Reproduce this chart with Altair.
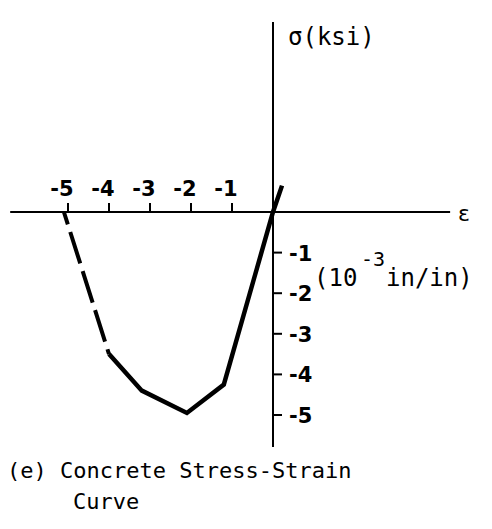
import altair as alt
import pandas as pd

# Concrete stress-strain curve: strain in 10^-3 in/in, stress in ksi
dashed_strain = [-5.1, -4.0]
dashed_stress = [0.0, -3.5]
solid_strain = [-4.0, -3.2, -2.1, -1.2, 0.0, 0.22]
solid_stress = [-3.5, -4.4, -4.95, -4.25, 0.0, 0.65]

x_tick_values = [-5, -4, -3, -2, -1]
x_tick_labels = ["-5", "-4", "-3", "-2", "-1"]
y_tick_values = [-1, -2, -3, -4, -5]
y_tick_labels = ["-1", "-2", "-3", "-4", "-5"]

# drawing extents of the two axis lines, in data units
x_axis_span = [-6.41, 4.32]
y_axis_span = [-5.79, 4.68]
tick_len = 0.22

W, H = 492, 529
PX_X, PX_Y = 41.0, 40.6          # pixels per unit
ORIGIN_X, ORIGIN_Y = 273, 212    # pixel position of (0, 0)
x_scale = alt.Scale(domain=[-ORIGIN_X / PX_X, (W - ORIGIN_X) / PX_X], nice=False, zero=False)
y_scale = alt.Scale(domain=[-(H - ORIGIN_Y) / PX_Y, ORIGIN_Y / PX_Y], nice=False, zero=False)

MONO = "DejaVu Sans Mono"
BOLD = "DejaVu Sans"

dashed = pd.DataFrame({"i": range(len(dashed_strain)), "e": dashed_strain, "s": dashed_stress})
solid = pd.DataFrame({"i": range(len(solid_strain)), "e": solid_strain, "s": solid_stress})
axes = pd.DataFrame({
    "x": [x_axis_span[0], 0.0], "x2": [x_axis_span[1], 0.0],
    "y": [0.0, y_axis_span[0]], "y2": [0.0, y_axis_span[1]],
})
xt = pd.DataFrame({"v": x_tick_values, "lab": x_tick_labels})
yt = pd.DataFrame({"v": y_tick_values, "lab": y_tick_labels})

X = lambda f: alt.X(f, type="quantitative", scale=x_scale, axis=None)
Y = lambda f: alt.Y(f, type="quantitative", scale=y_scale, axis=None)

axis_lines = alt.Chart(axes).mark_rule(color="black", strokeWidth=2).encode(
    x=X("x"), x2="x2", y=Y("y"), y2="y2"
)

x_ticks = alt.Chart(xt).mark_rule(color="black", strokeWidth=2).encode(
    x=X("v"), y=alt.Y(datum=0, scale=y_scale, axis=None), y2=alt.Y2(datum=tick_len)
)
y_ticks = alt.Chart(yt).mark_rule(color="black", strokeWidth=2).encode(
    y=Y("v"), x=alt.X(datum=0, scale=x_scale, axis=None), x2=alt.X2(datum=tick_len)
)

x_labels = alt.Chart(xt).mark_text(
    font=BOLD, fontWeight="bold", fontSize=21, align="center", baseline="middle",
    dx=-6, dy=-22, color="black"
).encode(x=X("v"), y=alt.Y(datum=0, scale=y_scale, axis=None), text="lab")

y_labels = alt.Chart(yt).mark_text(
    font=BOLD, fontWeight="bold", fontSize=21, align="left", baseline="middle",
    dx=16, dy=2, color="black"
).encode(y=Y("v"), x=alt.X(datum=0, scale=x_scale, axis=None), text="lab")

dashed_line = alt.Chart(dashed).mark_line(
    color="black", strokeWidth=4, strokeDash=[33, 8], strokeDashOffset=20, strokeCap="butt"
).encode(x=X("e"), y=Y("s"), order="i")

solid_line = alt.Chart(solid).mark_line(
    color="black", strokeWidth=4.5, strokeJoin="miter"
).encode(x=X("e"), y=Y("s"), order="i")


def label(txt, x, y, size, font=MONO, align="left", baseline="alphabetic"):
    return alt.Chart(pd.DataFrame({"t": [txt]})).mark_text(
        font=font, fontSize=size, align=align, baseline=baseline, color="black"
    ).encode(x=alt.value(x), y=alt.value(y), text="t")


texts = [
    label("σ(ksi)", 288, 45, 24),
    label("ε", 458, 221, 22, font="DejaVu Sans"),
    label("(10", 314, 286, 24),
    label("-3", 361, 266, 20),
    label("in/in)", 386, 286, 24),
    label("(e) Concrete Stress-Strain", 7, 478, 22),
    label("Curve", 73, 509, 22),
]

chart = alt.layer(
    axis_lines, x_ticks, y_ticks, x_labels, y_labels, dashed_line, solid_line, *texts
).properties(
    width=W, height=H, padding=0, autosize=alt.AutoSizeParams(type="none"),
    background="white",
).configure_view(strokeWidth=0)

chart.save("out.html", embed_options={"renderer": "svg", "actions": False})
